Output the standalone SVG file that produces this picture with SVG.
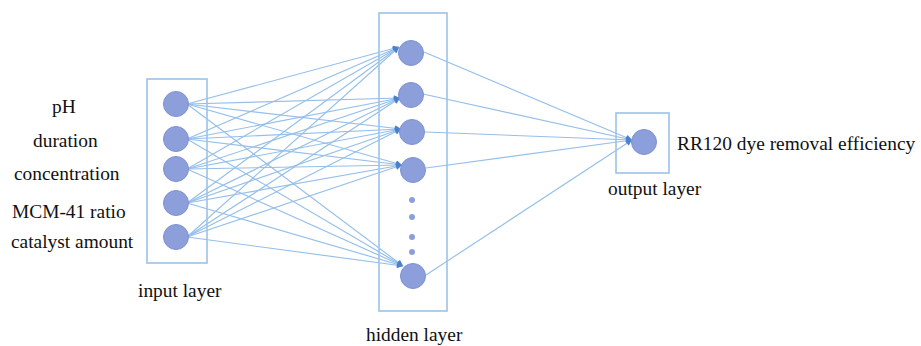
<svg xmlns="http://www.w3.org/2000/svg" width="921" height="346" viewBox="0 0 921 346">
<defs>
<style>
.box{fill:none;stroke:#9cc2e8;stroke-width:1.6}
.node{fill:#8c9fdb;stroke:#7d91d3;stroke-width:1}
.dot{fill:#8c9fdb}
.edge{stroke:#95bfea;stroke-width:1.15;fill:none;marker-end:url(#arr)}
text{font-family:"Liberation Serif","Times New Roman",serif;font-size:19.4px;fill:#111}
</style>
<marker id="arr" viewBox="0 0 10 10" refX="10" refY="5" markerWidth="7" markerHeight="6" markerUnits="userSpaceOnUse" orient="auto">
<path d="M0,0 L10,5 L0,10 z" fill="#4a80cc"/>
</marker>
</defs>
<rect width="921" height="346" fill="#fff"/>

<g id="connectors">
<g>
<line class="edge" x1="187" y1="104" x2="399" y2="47"/>
<line class="edge" x1="187" y1="104" x2="400" y2="98"/>
<line class="edge" x1="187" y1="104" x2="401" y2="129"/>
<line class="edge" x1="187" y1="104" x2="402" y2="165"/>
<line class="edge" x1="187" y1="104" x2="403" y2="266"/>
<line class="edge" x1="187" y1="139" x2="399" y2="47"/>
<line class="edge" x1="187" y1="139" x2="400" y2="98"/>
<line class="edge" x1="187" y1="139" x2="401" y2="129"/>
<line class="edge" x1="187" y1="139" x2="402" y2="165"/>
<line class="edge" x1="187" y1="139" x2="403" y2="266"/>
<line class="edge" x1="187" y1="169" x2="399" y2="47"/>
<line class="edge" x1="187" y1="169" x2="400" y2="98"/>
<line class="edge" x1="187" y1="169" x2="401" y2="129"/>
<line class="edge" x1="187" y1="169" x2="402" y2="165"/>
<line class="edge" x1="187" y1="169" x2="403" y2="266"/>
<line class="edge" x1="187" y1="203" x2="399" y2="47"/>
<line class="edge" x1="187" y1="203" x2="400" y2="98"/>
<line class="edge" x1="187" y1="203" x2="401" y2="129"/>
<line class="edge" x1="187" y1="203" x2="402" y2="165"/>
<line class="edge" x1="187" y1="203" x2="403" y2="266"/>
<line class="edge" x1="187" y1="237" x2="399" y2="47"/>
<line class="edge" x1="187" y1="237" x2="400" y2="98"/>
<line class="edge" x1="187" y1="237" x2="401" y2="129"/>
<line class="edge" x1="187" y1="237" x2="402" y2="165"/>
<line class="edge" x1="187" y1="237" x2="403" y2="266"/>
</g>
<g>
<line class="edge" x1="424" y1="52" x2="632" y2="140"/>
<line class="edge" x1="423" y1="94" x2="632" y2="140"/>
<line class="edge" x1="425" y1="132" x2="632" y2="140"/>
<line class="edge" x1="426" y1="168" x2="632" y2="140"/>
<line class="edge" x1="426" y1="275" x2="632" y2="140"/>
</g>
</g>

<g id="input-layer">
<rect class="box" x="147" y="79" width="60" height="184"/>
<text x="138" y="297">input layer</text>
</g>
<g id="in-ph"><circle class="node" cx="176" cy="104" r="12.5"/><text x="52" y="113">pH</text></g>
<g id="in-duration"><circle class="node" cx="176" cy="139" r="12.5"/><text x="33" y="147">duration</text></g>
<g id="in-concentration"><circle class="node" cx="176" cy="169" r="12.5"/><text x="14" y="180">concentration</text></g>
<g id="in-mcm"><circle class="node" cx="176" cy="203" r="12.5"/><text x="12" y="218">MCM-41 ratio</text></g>
<g id="in-catalyst"><circle class="node" cx="176" cy="237" r="12.5"/><text x="11" y="248">catalyst amount</text></g>

<g id="hidden-layer">
<rect class="box" x="379" y="13" width="68" height="298"/>
<text x="366" y="341">hidden layer</text>
</g>
<g id="h1"><circle class="node" cx="411" cy="53" r="12.5"/></g>
<g id="h2"><circle class="node" cx="411" cy="95" r="12.5"/></g>
<g id="h3"><circle class="node" cx="412" cy="132" r="12.5"/></g>
<g id="h4"><circle class="node" cx="413" cy="170" r="12.5"/></g>
<g id="h-dots">
<circle class="dot" cx="412" cy="200" r="3"/>
<circle class="dot" cx="412" cy="217" r="3"/>
<circle class="dot" cx="412" cy="237" r="3"/>
<circle class="dot" cx="412" cy="252" r="3"/>
</g>
<g id="h5"><circle class="node" cx="413" cy="276" r="12.5"/></g>

<g id="output-layer">
<rect class="box" x="616" y="113" width="53" height="60"/>
<text x="608" y="195">output layer</text>
</g>
<g id="out"><circle class="node" cx="644" cy="142" r="12.5"/><text x="677" y="150">RR120 dye removal efficiency</text></g>
</svg>
